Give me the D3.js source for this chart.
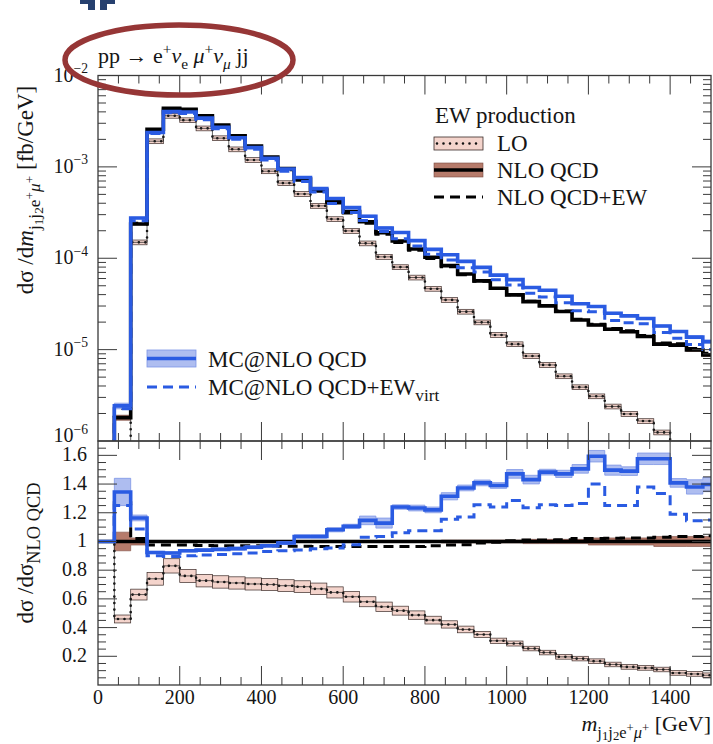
<!DOCTYPE html>
<html><head><meta charset="utf-8">
<script src="https://cdn.jsdelivr.net/npm/d3@7"></script>
<style>
body{margin:0;background:#fff}
svg{display:block}
text{font-family:"Liberation Serif","DejaVu Serif",serif;fill:#151515}
</style>
</head><body>
<svg id="chart" width="713" height="744"></svg>
<script>
// ---------------- data ----------------
// bins of 40 GeV starting at 0 GeV (lower edges), last bin 1480-1520
const binLow = [0,40,80,120,160,200,240,280,320,360,400,440,480,520,560,600,640,680,720,760,
  800,840,880,920,960,1000,1040,1080,1120,1160,1200,1240,1280,1320,1360,1400,1440,1480];
const binWidth = 40;
// NLO QCD cross section dσ/dm [fb/GeV]
const nloQCD = [null,1.8e-6,2.37e-4,2.58e-3,4.37e-3,4.27e-3,3.63e-3,2.87e-3,2.19e-3,1.69e-3,
  1.28e-3,9.6e-4,7.38e-4,5.59e-4,4.16e-4,3.24e-4,2.51e-4,1.90e-4,1.545e-4,1.264e-4,
  1.026e-4,8.30e-5,6.73e-5,5.65e-5,4.70e-5,3.97e-5,3.35e-5,3.01e-5,2.61e-5,2.11e-5,
  1.86e-5,1.67e-5,1.57e-5,1.39e-5,1.15e-5,1.12e-5,9.93e-6,8.75e-6];
// ratios to NLO QCD
const ratioLO = [1,0.46,0.63,0.74,0.83,0.76,0.727,0.718,0.711,0.704,0.70,0.692,0.685,0.67,0.645,
  0.615,0.58,0.545,0.518,0.487,0.452,0.422,0.387,0.352,0.308,0.289,0.254,0.226,0.196,0.184,
  0.166,0.143,0.126,0.119,0.108,0.084,0.077,0.068];
const ratioNloEW = [1,1.27,1.02,0.975,0.975,0.975,0.972,0.97,0.97,0.97,0.968,0.967,0.966,0.965,
  0.965,0.965,0.965,0.965,0.965,0.965,0.97,0.975,0.978,0.99,0.995,1.005,1.01,1.01,1.012,1.02,
  1.02,1.022,1.024,1.025,1.03,1.035,1.035,1.04];
const ratioMC = [1,1.345,1.164,0.923,0.92,0.935,0.94,0.945,0.95,0.96,0.97,0.989,1.035,1.035,
  1.082,1.105,1.147,1.128,1.24,1.233,1.22,1.315,1.373,1.408,1.39,1.471,1.431,1.483,1.471,1.506,
  1.594,1.497,1.49,1.576,1.576,1.408,1.38,1.397];
const ratioMCEW = [1,1.25,1.087,0.90,0.895,0.90,0.905,0.91,0.915,0.92,0.93,0.935,0.94,0.95,
  0.955,0.977,1.03,1.035,1.06,1.075,1.075,1.155,1.17,1.255,1.24,1.285,1.235,1.255,1.25,1.265,
  1.40,1.25,1.25,1.38,1.335,1.19,1.145,1.15];
// uncertainty bands (half widths, ratio units)
const errMC = [0,0.095,0.02,0.008,0.008,0.008,0.008,0.008,0.01,0.01,0.01,0.01,0.012,0.012,
  0.015,0.015,0.03,0.035,0.015,0.02,0.02,0.025,0.02,0.02,0.02,0.03,0.03,0.02,0.025,0.03,
  0.04,0.035,0.03,0.04,0.04,0.03,0.05,0.05];
const errNLO = [0,0.065,0.025,0.006,0.005,0.005,0.005,0.005,0.005,0.005,0.005,0.005,0.005,
  0.007,0.007,0.007,0.007,0.007,0.007,0.007,0.007,0.01,0.01,0.01,0.01,0.01,0.015,0.015,0.015,
  0.015,0.025,0.025,0.025,0.025,0.035,0.035,0.035,0.035];
const relErrLO = 0.06; // relative scale band of LO
// tick labels
const xTickLabels = ["0","200","400","600","800","1000","1200","1400"];
const topTickExp = ["−6","−5","−4","−3","−2"];
const ratioTickLabels = ["0.2","0.4","0.6","0.8","1","1.2","1.4","1.6"];

// ---------------- layout ----------------
const svg = d3.select('#chart');
const X0=98, X1=711, T0=75.5, T1=441, R0=441, R1=685;
const x = d3.scaleLinear().domain([0,1500]).range([X0,X1]);
const yTop = d3.scaleLog().domain([1e-6,1e-2]).range([T1,T0]);
const yR = d3.scaleLinear().domain([0,1.7]).range([R1,R0]);

const BLUE="#2a5be2", LBLUE="#aebdf0", BROWN="#b67b6b", PINK="#f4d4cc", AX="#3a3a3a";
const FT=20, FL=23;

const nB = binLow.length;
const edges = binLow.concat([binLow[nB-1]+binWidth]);
const scaleByNLO = (r)=> nloQCD.map((v,i)=> v==null?null:v*r[i]);
const topNLO = nloQCD, topLO = scaleByNLO(ratioLO), topNloEW = scaleByNLO(ratioNloEW),
      topMC = scaleByNLO(ratioMC), topMCEW = scaleByNLO(ratioMCEW);
const ones = binLow.map(()=>1);

function stepLine(vals, ys, offY){
  const pts = vals.map((v,i)=>[edges[i], v]);
  pts.push([edges[nB], vals[nB-1]]);
  return d3.line().curve(d3.curveStepAfter).x(d=>x(d[0])).y(d=> d[1]==null?offY:ys(d[1]))(pts);
}
function stepArea(lo, hi, ys){
  const pts = lo.map((v,i)=>[edges[i], v, hi[i]]);
  pts.push([edges[nB], lo[nB-1], hi[nB-1]]);
  return d3.area().curve(d3.curveStepAfter).defined(d=>d[1]!=null)
    .x(d=>x(d[0])).y0(d=>ys(d[1])).y1(d=>ys(d[2]))(pts);
}

svg.append('defs').call(d=>{
  d.append('clipPath').attr('id','cTop').append('rect').attr('x',X0).attr('y',T0).attr('width',X1-X0).attr('height',T1-T0);
  d.append('clipPath').attr('id','cR').append('rect').attr('x',X0).attr('y',R0+0.5).attr('width',X1-X0).attr('height',R1-R0-0.5);
});

// ---------- series drawing ----------
function drawSeries(g, ys, offY, S, isRatio){
  S.lo.forEach((v,i)=>{
    if(v==null || i===0) return;
    let yHi = ys(isRatio? v+Math.max(v*relErrLO,0.016) : v*(1+relErrLO));
    let yLo = ys(isRatio? v-Math.max(v*relErrLO,0.016) : v*(1-relErrLO));
    g.append('rect').attr('x',x(edges[i])).attr('width',x(edges[i+1])-x(edges[i]))
      .attr('y',yHi).attr('height',yLo-yHi).attr('fill',PINK).attr('stroke','#3b2b28').attr('stroke-width',0.7);
  });
  g.append('path').attr('d',stepArea(S.nloLo,S.nloHi,ys)).attr('fill',BROWN).attr('stroke','#7a4a40').attr('stroke-width',0.6);
  g.append('path').attr('d',stepLine(S.lo,ys,offY)).attr('fill','none').attr('stroke','#111')
    .attr('stroke-width',2.6).attr('stroke-linecap','round').attr('stroke-dasharray','0 6.5');
  g.append('path').attr('d',stepLine(S.lo,ys,offY)).attr('fill','none').attr('stroke','#222').attr('stroke-width',0.7);
  g.append('path').attr('d',stepLine(S.nlo,ys,offY)).attr('fill','none').attr('stroke','#000').attr('stroke-width',3.6);
  g.append('path').attr('d',stepLine(S.nloEW,ys,offY)).attr('fill','none').attr('stroke','#000')
    .attr('stroke-width',3).attr('stroke-dasharray','10 6');
  g.append('path').attr('d',stepArea(S.mcLo,S.mcHi,ys)).attr('fill',LBLUE).attr('stroke','#7d96e6').attr('stroke-width',0.8);
  g.append('path').attr('d',stepLine(S.mc,ys,offY)).attr('fill','none').attr('stroke',BLUE).attr('stroke-width',3.6);
  g.append('path').attr('d',stepLine(S.mcEW,ys,offY)).attr('fill','none').attr('stroke',BLUE)
    .attr('stroke-width',3).attr('stroke-dasharray','10 6');
}

const gTop = svg.append('g').attr('clip-path','url(#cTop)');
drawSeries(gTop, yTop, T1+40, {
  lo: topLO, nlo: topNLO, nloEW: topNloEW, mc: topMC, mcEW: topMCEW,
  nloLo: nloQCD.map((v,i)=>v==null?null:v*(1-errNLO[i])), nloHi: nloQCD.map((v,i)=>v==null?null:v*(1+errNLO[i])),
  mcLo: nloQCD.map((v,i)=>v==null?null:v*(ratioMC[i]-errMC[i])), mcHi: nloQCD.map((v,i)=>v==null?null:v*(ratioMC[i]+errMC[i]))
}, false);

const gR = svg.append('g').attr('clip-path','url(#cR)');
drawSeries(gR, yR, R1+40, {
  lo: ratioLO, nlo: ones, nloEW: ratioNloEW, mc: ratioMC, mcEW: ratioMCEW,
  nloLo: errNLO.map(e=>1-e), nloHi: errNLO.map(e=>1+e),
  mcLo: ratioMC.map((v,i)=>v-errMC[i]), mcHi: ratioMC.map((v,i)=>v+errMC[i])
}, true);

// ---------- frames & ticks ----------
const axG = svg.append('g').attr('stroke',AX).attr('fill','none');
function hTick(xp, y, len, dir){ axG.append('line').attr('x1',xp).attr('x2',xp).attr('y1',y).attr('y2',y+dir*len).attr('stroke-width',1); }
function vTick(yp, xx, len, dir){ axG.append('line').attr('y1',yp).attr('y2',yp).attr('x1',xx).attr('x2',xx+dir*len).attr('stroke-width',1); }
const xMinor = d3.range(50,1500,50);
[[T0,T1],[R0,R1]].forEach(([a,b])=>{
  xMinor.forEach(v=>{
    const L = v%200===0 ? 19 : 8;
    hTick(x(v), a, L, 1); hTick(x(v), b, L, -1);
  });
});
for(let e=-6;e<=-3;e++){
  for(let m=1;m<=9;m++){
    const v = m*Math.pow(10,e); const yp=yTop(v);
    if(m===1 && e===-6) continue;
    const L = m===1?19:8;
    vTick(yp, X0, L, 1); vTick(yp, X1, L, -1);
  }
}
d3.range(0.05,1.7,0.05).forEach(v=>{
  const major = Math.abs(v*5-Math.round(v*5))<1e-6;
  const L = major?19:8;
  vTick(yR(v), X0, L, 1); vTick(yR(v), X1, L, -1);
});
axG.append('rect').attr('x',X0).attr('y',T0).attr('width',X1-X0).attr('height',T1-T0).attr('stroke-width',1.3);
axG.append('rect').attr('x',X0).attr('y',R0).attr('width',X1-X0).attr('height',R1-R0).attr('stroke-width',1.3);

// ---------- rich text helper ----------
function rich(x0, y0, parts, size, anchor, rotate){
  const t = svg.append('text').attr('x',x0).attr('y',y0).attr('font-size',size).attr('text-anchor',anchor||'start');
  if(rotate) t.attr('transform',`rotate(-90 ${x0} ${y0})`);
  let cur=0;
  parts.forEach(p=>{
    const off=(p.dy||0)*size;
    const ts=t.append('tspan').text(p.t).attr('dy',off-cur).attr('font-size',(p.s||1)*size);
    if(p.i) ts.attr('font-style','italic');
    cur=off;
  });
  return t;
}
const massSub = [{t:'j',dy:0.3,s:0.75},{t:'1',dy:0.42,s:0.58},{t:'j',dy:0.3,s:0.75},{t:'2',dy:0.42,s:0.58},
  {t:'e',dy:0.3,s:0.75},{t:'+',dy:0.06,s:0.58},{t:'μ',dy:0.3,s:0.75,i:true},{t:'+',dy:0.06,s:0.58}];

xTickLabels.forEach((l)=> svg.append('text').attr('x',x(+l)).attr('y',704).attr('text-anchor','middle').attr('font-size',FT).text(l));
topTickExp.forEach((l,i)=>{
  const v = Math.pow(10,-6+i);
  rich(88, yTop(v)+ (i===0?1:6), [{t:'10'},{t:l,dy:-0.42,s:0.68}], FT, 'end');
});
ratioTickLabels.forEach(l=> svg.append('text').attr('x',87).attr('y',yR(+l)+6).attr('text-anchor','end').attr('font-size',FT).text(l));

rich(33, 190, [{t:'dσ /d'},{t:'m',i:true}].concat(massSub,[{t:' [fb/GeV]',dy:0}]), FL, 'middle', true);
rich(33, 553, [{t:'dσ /dσ'},{t:'NLO QCD',dy:0.3,s:0.8}], FL, 'middle', true);
rich(711, 731, [{t:'m',i:true}].concat(massSub,[{t:' [GeV]',dy:0}]), 22, 'end');

rich(98, 63, [{t:'pp → e'},{t:'+',dy:-0.42,s:0.7},{t:'ν',dy:0,i:true},{t:'e',dy:0.25,s:0.7},{t:' μ',dy:0,i:true},
  {t:'+',dy:-0.42,s:0.7},{t:'ν',dy:0,i:true},{t:'μ',dy:0.25,s:0.7,i:true},{t:' jj',dy:0}], 22, 'start');

// ---------- legends ----------
const lg = svg.append('g');
svg.append('text').attr('x',435).attr('y',123).attr('font-size',FL).text('EW production');
lg.append('rect').attr('x',434).attr('y',137).attr('width',49).attr('height',13).attr('fill',PINK).attr('stroke','#3b2b28').attr('stroke-width',0.8);
lg.append('line').attr('x1',437).attr('x2',482).attr('y1',143.5).attr('y2',143.5).attr('stroke','#111').attr('stroke-width',2.6).attr('stroke-linecap','round').attr('stroke-dasharray','0 6.5');
svg.append('text').attr('x',497).attr('y',151).attr('font-size',FL).text('LO');
lg.append('rect').attr('x',434).attr('y',163).attr('width',49).attr('height',14).attr('fill',BROWN).attr('stroke','#7a4a40').attr('stroke-width',0.6);
lg.append('line').attr('x1',434).attr('x2',483).attr('y1',170).attr('y2',170).attr('stroke','#000').attr('stroke-width',3.6);
svg.append('text').attr('x',497).attr('y',178).attr('font-size',FL).text('NLO QCD');
lg.append('line').attr('x1',434).attr('x2',483).attr('y1',197).attr('y2',197).attr('stroke','#000').attr('stroke-width',3).attr('stroke-dasharray','10 6');
svg.append('text').attr('x',497).attr('y',205).attr('font-size',FL).text('NLO QCD+EW');

lg.append('rect').attr('x',147).attr('y',350).attr('width',49).attr('height',17).attr('fill',LBLUE).attr('stroke','#7d96e6').attr('stroke-width',0.8);
lg.append('line').attr('x1',147).attr('x2',196).attr('y1',358.5).attr('y2',358.5).attr('stroke',BLUE).attr('stroke-width',3.6);
svg.append('text').attr('x',208).attr('y',367).attr('font-size',FL).text('MC@NLO QCD');
lg.append('line').attr('x1',147).attr('x2',196).attr('y1',387).attr('y2',387).attr('stroke',BLUE).attr('stroke-width',3).attr('stroke-dasharray','10 6');
rich(208, 395, [{t:'MC@NLO QCD+EW'},{t:'virt',dy:0.28,s:0.75}], FL, 'start');

// ---------- annotation ----------
svg.append('path').attr('d','M80,0H95V10H88V4H80Z M100,0H115V4H107V10H100Z').attr('fill','#26406f');
svg.append('ellipse').attr('cx',179).attr('cy',60).attr('rx',114).attr('ry',35)
  .attr('fill','none').attr('stroke','#963636').attr('stroke-width',5.5);
</script>
</body></html>
